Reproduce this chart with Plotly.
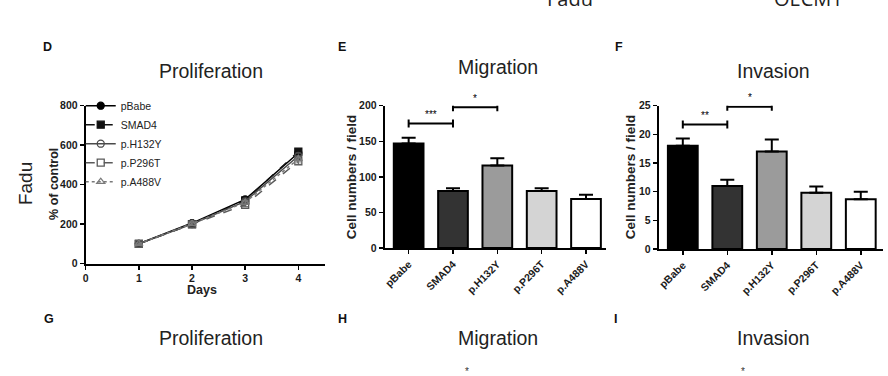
import plotly.graph_objects as go

W, H = 888, 376

# ---------------- data ----------------
days = [1, 2, 3, 4]
prolif_names = ["pBabe", "SMAD4", "p.H132Y", "p.P296T", "p.A488V"]
prolif_pBabe = [100, 205, 325, 560]
prolif_SMAD4 = [100, 200, 320, 567]
prolif_H132Y = [100, 200, 315, 545]
prolif_P296T = [100, 198, 298, 518]
prolif_A488V = [100, 202, 310, 530]
prolif_err = [4, 8, 10, 15]

groups = ["pBabe", "SMAD4", "p.H132Y", "p.P296T", "p.A488V"]
migration = [147, 80, 116, 80, 69]
migration_err = [8, 4, 10, 4, 6]
invasion = [18.0, 11.0, 17.0, 9.8, 8.7]
invasion_err = [1.3, 1.1, 2.1, 1.1, 1.3]
bar_colors = ["#000000", "#333333", "#9b9b9b", "#d4d4d4", "#ffffff"]

# significance: (group a, group b, height, label)
sig_migration = [("pBabe", "SMAD4", 175, "***"), ("SMAD4", "p.H132Y", 198, "*")]
sig_invasion = [("pBabe", "SMAD4", 21.7, "**"), ("SMAD4", "p.H132Y", 24.8, "*")]

# ---------------- helpers ----------------
def px(x):
    return x / W

def py(y):
    return 1 - y / H

FONT = "Liberation Sans, Arial, sans-serif"
fig = go.Figure()

# ---------------- panel D: proliferation lines ----------------
line_styles = [
    dict(color="#000000", dash="solid", symbol="circle"),
    dict(color="#111111", dash="dash", symbol="square"),
    dict(color="#4a4a4a", dash="solid", symbol="circle-open"),
    dict(color="#5a5a5a", dash="dash", symbol="square-open"),
    dict(color="#7a7a7a", dash="dot", symbol="triangle-up-open"),
]
prolif_series = [prolif_pBabe, prolif_SMAD4, prolif_H132Y, prolif_P296T, prolif_A488V]
for name, vals, st in zip(prolif_names, prolif_series, line_styles):
    fig.add_trace(go.Scatter(
        x=days, y=vals, name=name, mode="lines+markers",
        line=dict(color=st["color"], dash=st["dash"], width=1.5),
        marker=dict(symbol=st["symbol"], size=7, color=st["color"],
                    line=dict(color=st["color"], width=1.3)),
        error_y=dict(type="data", array=prolif_err, color=st["color"], thickness=1, width=3),
        xaxis="x", yaxis="y", showlegend=True,
    ))

# ---------------- panels E, F: bars ----------------
def add_bars(vals, errs, xa, ya):
    fig.add_trace(go.Bar(
        x=list(range(len(groups))), y=vals, width=0.67,
        marker=dict(color=bar_colors, line=dict(color="#000000", width=2)),
        error_y=dict(type="data", symmetric=False, array=errs,
                     arrayminus=[0] * len(errs), color="#000000", thickness=2, width=7),
        xaxis=xa, yaxis=ya, showlegend=False,
    ))

add_bars(migration, migration_err, "x2", "y2")
add_bars(invasion, invasion_err, "x3", "y3")

shapes = []
annotations = []

def add_sig(sigs, xref, yref):
    for a, b, h, lab in sigs:
        ia, ib = groups.index(a), groups.index(b)
        shapes.append(dict(type="line", xref=xref, yref=yref, x0=ia, x1=ib, y0=h, y1=h,
                           line=dict(color="#000000", width=2)))
        for i in (ia, ib):
            shapes.append(dict(type="line", xref=xref, yref=yref, x0=i, x1=i,
                               ysizemode="pixel", yanchor=h, y0=-4, y1=4,
                               line=dict(color="#000000", width=2)))
        annotations.append(dict(xref=xref, yref=yref, x=(ia + ib) / 2, y=h, text=lab,
                                showarrow=False, yanchor="middle", yshift=9,
                                font=dict(family=FONT, size=10, color="#000000")))

add_sig(sig_migration, "x2", "y2")
add_sig(sig_invasion, "x3", "y3")

# ---------------- axes ----------------
tickfont = dict(family=FONT, size=10.5, color="#1a1a1a", weight="bold")
common_axis = dict(showline=True, linecolor="#000000", linewidth=2, ticks="outside",
                   ticklen=4, tickwidth=1.5, tickcolor="#000000", showgrid=False,
                   zeroline=False, tickfont=tickfont, fixedrange=True)

fig.update_layout(
    xaxis=dict(domain=[px(83), px(323)], range=[0, 4.5], tickvals=[0, 1, 2, 3, 4],
               anchor="y", **common_axis),
    yaxis=dict(domain=[py(266), py(103)], range=[0, 800], tickvals=[0, 200, 400, 600, 800],
               anchor="x", **common_axis),
    xaxis2=dict(domain=[px(383), px(605)], range=[-0.54, 4.45],
                tickvals=list(range(len(groups))), ticktext=groups, tickangle=-45,
                anchor="y2", **common_axis),
    yaxis2=dict(domain=[py(250), py(103)], range=[0, 200], tickvals=[0, 50, 100, 150, 200],
                anchor="x2", **common_axis),
    xaxis3=dict(domain=[px(658), px(883)], range=[-0.54, 4.5],
                tickvals=list(range(len(groups))), ticktext=groups, tickangle=-45,
                anchor="y3", **common_axis),
    yaxis3=dict(domain=[py(251), py(103)], range=[0, 25], tickvals=[0, 5, 10, 15, 20, 25],
                anchor="x3", **common_axis),
)

# ---------------- texts ----------------
def ann(x, y, text, size, bold=False, angle=0, color="#222222", xanchor="center",
        yanchor="middle", family=FONT):
    f = dict(family=family, size=size, color=color)
    if bold:
        f["weight"] = "bold"
    annotations.append(dict(xref="paper", yref="paper", x=px(x), y=py(y), text=text,
                            showarrow=False, textangle=angle, xanchor=xanchor,
                            yanchor=yanchor, font=f))

# cut-off column headers at the top
ann(569, 8, "Fadu", 20, yanchor="bottom", family="Open Sans, sans-serif")
ann(808, 8, "OECM1", 20, yanchor="bottom", family="Open Sans, sans-serif")

# panel letters
for (x, y, t) in [(45, 42, "D"), (340, 42, "E"), (618, 42, "F"),
                  (46, 323, "G"), (341, 323, "H"), (615, 323, "I")]:
    ann(x, y, t, 12.5, bold=True, color="#111111")

# panel titles
ann(209, 67, "Proliferation", 19.5)
ann(497, 63, "Migration", 19.5)
ann(773, 67, "Invasion", 19.5)
ann(209, 343, "Proliferation", 19.5)
ann(497, 343, "Migration", 19.5)
ann(773, 343, "Invasion", 19.5)

# bottom-row asterisks (cut off)
ann(466, 370, "*", 10, yanchor="top", color="#333333")
ann(743, 370, "*", 10, yanchor="top", color="#333333")

# row label
ann(22, 183, "Fadu", 19, angle=-90)

# axis titles
ann(51, 184, "% of control", 12.5, bold=True, angle=-90)
ann(200, 293, "Days", 12.5, bold=True)
ann(350, 176, "Cell numbers / field", 13.5, bold=True, angle=-90)
ann(630, 176, "Cell numbers / field", 13.5, bold=True, angle=-90)

fig.update_layout(
    width=W, height=H, margin=dict(l=0, r=0, t=0, b=0),
    paper_bgcolor="#ffffff", plot_bgcolor="#ffffff",
    shapes=shapes, annotations=annotations, bargap=0,
    legend=dict(x=px(78), y=py(88), xanchor="left", yanchor="top",
                font=dict(family=FONT, size=10.5, color="#222222"),
                bgcolor="rgba(0,0,0,0)", itemwidth=30, tracegroupgap=0),
    font=dict(family=FONT),
)

fig.write_html(
    "out.html",
    config={"displayModeBar": False, "staticPlot": True},
    post_script="document.body.style.margin='0';document.body.style.overflow='hidden';",
)
